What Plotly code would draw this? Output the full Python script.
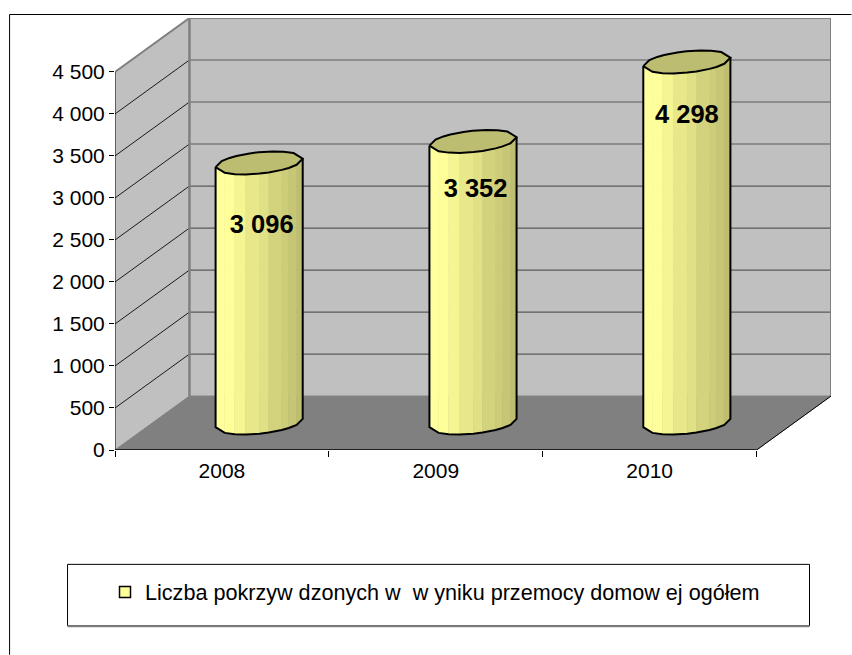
import math
import plotly.graph_objects as go

years = ["2008", "2009", "2010"]
values = [3096, 3352, 4298]
value_labels = ["3 096", "3 352", "4 298"]
y_ticks = [0, 500, 1000, 1500, 2000, 2500, 3000, 3500, 4000, 4500]
y_tick_labels = ["0", "500", "1 000", "1 500", "2 000", "2 500", "3 000", "3 500", "4 000", "4 500"]
legend_label = "Liczba pokrzyw dzonych w  w yniku przemocy domow ej ogółem"

W, H = 852, 655
L, R0, T0PX, B = 115.0, 757.0, 71.5, 450.0
PX_X = (R0 - L) / 3
PX_Y = (B - T0PX) / 4500
DX = 74.5 / PX_X
DY = 54 / PX_Y
R = R0 + 74.5
T = T0PX - 54
AX = 40.6 / PX_X
RZ = 11.5 / 54
T0 = math.atan2(DX * RZ * PX_X, AX * PX_X)
STRIP_EDGES = [-1, -0.79, -0.56, -0.31, 0.01, 0.22, 0.52, 0.68, 0.86, 1]
STRIP_COLORS = ["#FFFF9E", "#FFFF99", "#F5F592", "#E8E88A", "#E0E085", "#D3D37D", "#CCCC79", "#C6C675", "#BEBE70"]
TOP_COLOR = "#BDBD71"
LABEL_DROP = [433, 261, 327]
LABEL_SHIFT = [0.012, 0.012, 0.0]


def proj(i, level, t):
    x = i + 0.5 + DX * 0.5 + AX * math.cos(t) + DX * RZ * math.sin(t)
    y = level + DY * 0.5 + DY * RZ * math.sin(t)
    return x, y


fig = go.Figure()


def poly(xs, ys, fill=None, line=None, width=1):
    fig.add_trace(go.Scatter(
        x=xs, y=ys, mode="lines", cliponaxis=False, showlegend=False, hoverinfo="skip",
        fill="toself" if fill else None, fillcolor=fill,
        line=dict(color=line or fill or "rgba(0,0,0,0)", width=width, simplify=False),
    ))


top = y_ticks[-1]
poly([0, DX, DX, 0, 0], [0, DY, top + DY, top, 0], fill="#C0C0C0")
poly([DX, 3 + DX, 3 + DX, DX, DX], [DY, DY, top + DY, top + DY, DY], fill="#C0C0C0")
poly([0, 3, 3 + DX, DX, 0], [0, 0, DY, DY, 0], fill="#808080")
for v in y_ticks[1:-1]:
    poly([DX, 3 + DX], [v + DY, v + DY], line="#5A5A5A", width=1.2)
    poly([0, DX], [v, v + DY], line="#1A1A1A", width=1)
poly([0, DX, 3 + DX, 3 + DX], [top, top + DY, top + DY, DY], line="#808080", width=2)
poly([DX, DX], [DY, top + DY], line="#808080", width=2.5)
poly([3, 3 + DX], [0, DY], line="#000000", width=1)
poly([0, 3], [0, 0], line="#000000", width=1.5)
poly([0, 0], [0, top], line="#000000", width=1)

for i, val in enumerate(values):
    for k, col in enumerate(STRIP_COLORS):
        t1 = T0 - math.acos(STRIP_EDGES[k])
        t2 = T0 - math.acos(STRIP_EDGES[k + 1])
        a = proj(i, 0, t1)
        b = proj(i, 0, t2)
        c = proj(i, val, t2)
        d = proj(i, val, t1)
        poly([a[0], b[0], c[0], d[0], a[0]], [a[1], b[1], c[1], d[1], a[1]], fill=col, width=0.5)
    front = [T0 - math.acos(e) for e in STRIP_EDGES]
    xs = [proj(i, val, front[0])[0]] + [proj(i, 0, t)[0] for t in front] + [proj(i, val, front[-1])[0]]
    ys = [proj(i, val, front[0])[1]] + [proj(i, 0, t)[1] for t in front] + [proj(i, val, front[-1])[1]]
    poly(xs, ys, line="#000000", width=2)
    ring = front + [t + math.pi for t in front[1:]]
    xs = [proj(i, val, t)[0] for t in ring]
    ys = [proj(i, val, t)[1] for t in ring]
    poly(xs, ys, fill=TOP_COLOR, line="#000000", width=2)

fig.add_trace(go.Scatter(
    x=[i + 0.5 + DX * 0.5 + LABEL_SHIFT[i] for i in range(3)],
    y=[v - d for v, d in zip(values, LABEL_DROP)],
    text=value_labels, mode="text", cliponaxis=False, showlegend=False, hoverinfo="skip",
    textfont=dict(family="Liberation Sans", size=25.5, color="#000000", weight="bold"),
))

fig.add_trace(go.Scatter(
    x=[None], y=[None], mode="markers", name=legend_label, showlegend=True,
    marker=dict(symbol="square", size=11, color="#FFFF99", line=dict(color="#000000", width=1.5)),
))


def px(v):
    return (v - L) / (R - L)


def py(v):
    return (B - v) / (B - T)


frame = dict(type="line", xref="paper", yref="paper", line=dict(color="#000000", width=1))
shapes = [
    dict(frame, x0=px(9.5), x1=px(9.5), y0=py(14), y1=py(H)),
    dict(frame, x0=px(9.5), x1=px(W), y0=py(14), y1=py(14)),
    dict(type="rect", xref="paper", yref="paper", x0=px(67.5), x1=px(810), y0=py(564.5), y1=py(626),
         line=dict(color="#000000", width=1), fillcolor="#FFFFFF", layer="below"),
    dict(type="line", xref="paper", yref="paper", x0=px(67.5), x1=px(810), y0=py(626.5), y1=py(626.5),
         line=dict(color="#808080", width=2)),
]

fig.update_layout(
    width=W, height=H, autosize=False,
    margin=dict(l=L, r=W - R, t=T, b=H - B, pad=0),
    paper_bgcolor="#FFFFFF", plot_bgcolor="rgba(0,0,0,0)",
    font=dict(family="Liberation Sans", size=21, color="#000000"),
    shapes=shapes,
    hovermode=False,
    legend=dict(x=px(105), y=py(592.5), xanchor="left", yanchor="middle", bgcolor="rgba(0,0,0,0)",
                borderwidth=0, font=dict(size=21.6), itemwidth=30),
    xaxis=dict(range=[0, 3 + DX], tickmode="array", tickvals=[0.5, 1.5, 2.5], ticktext=years,
               ticks="", showgrid=False, zeroline=False, showline=False,
               minor=dict(tickmode="array", tickvals=[0, 1, 2, 3], ticks="outside", ticklen=6,
                          tickcolor="#000000", tickwidth=1, showgrid=False),
               ticklabelstandoff=6, tickfont=dict(size=21)),
    yaxis=dict(range=[0, top + DY], tickmode="array", tickvals=y_ticks, ticktext=y_tick_labels,
               ticks="outside", ticklen=5, tickcolor="#000000", tickwidth=1, showgrid=False, zeroline=False,
               showline=False, tickfont=dict(size=21)),
)

fig.write_html("out.html", post_script="document.body.style.margin='0';",
               config={"displayModeBar": False})
